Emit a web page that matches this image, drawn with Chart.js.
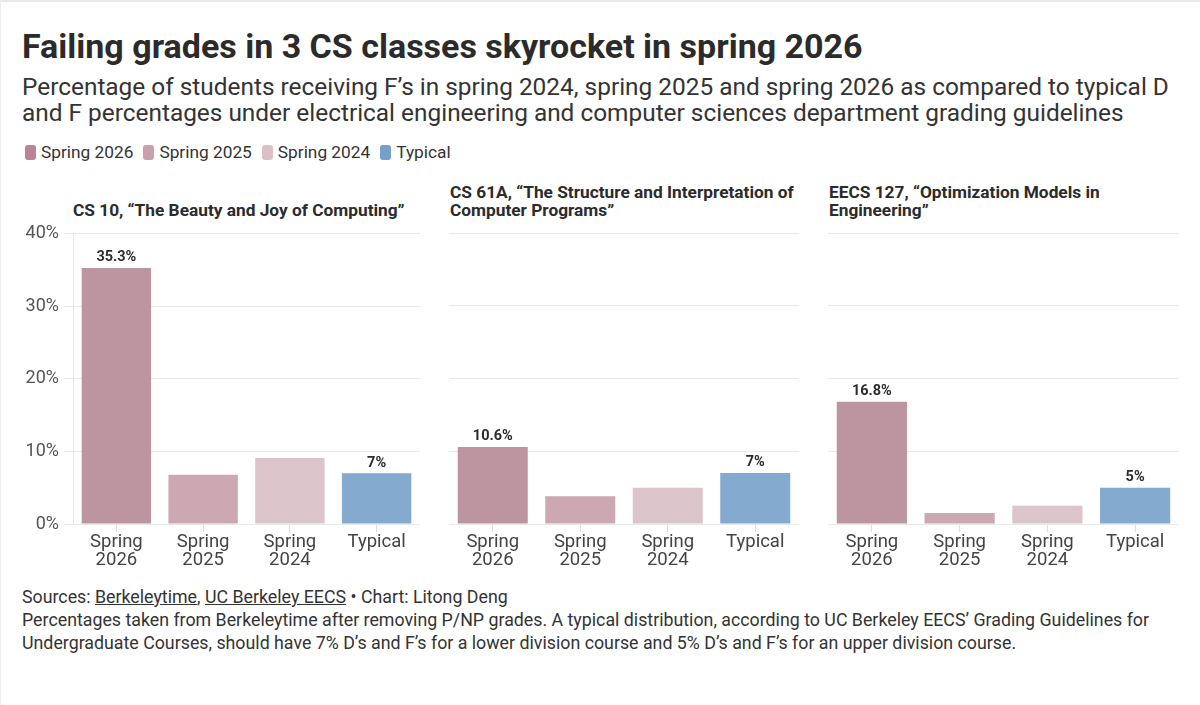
<!DOCTYPE html>
<html>
<head>
<meta charset="utf-8">
<script src="https://cdn.jsdelivr.net/npm/chart.js@4"></script>
<style>
  html, body { margin: 0; padding: 0; background: #fff; }
  #wrap { position: relative; width: 1200px; height: 705px; overflow: hidden;
    font-family: Roboto, "Noto Sans", sans-serif; color: #333;
    box-sizing: border-box; border-top: 2px solid #e8e8e8; border-left: 1px solid #eee; }
  .abs { position: absolute; }
  #title { left: 21px; top: 25px; font-size: 34px; line-height: 38px; font-weight: 700; color: #2b2b2b; white-space: nowrap; }
  #subtitle { left: 21px; top: 72px; font-size: 24.4px; line-height: 26px; color: #333; white-space: nowrap; }
  #legend { left: 24px; top: 140px; font-size: 17.3px; line-height: 20px; color: #333; display: flex; white-space: nowrap; }
  #legend .item { display: flex; align-items: center; margin-right: 10px; }
  #legend .sw { width: 11px; height: 15px; border-radius: 3px; margin-right: 5px; }
  .ptitle { font-size: 17.3px; line-height: 18px; font-weight: 700; color: #2b2b2b; white-space: nowrap; }
  canvas.panel { position: absolute; top: 216px; }
  #footer { left: 21px; top: 583px; font-size: 17.8px; line-height: 23px; color: #333; white-space: nowrap; }
  #footer u { text-decoration: underline; }
</style>
</head>
<body>
<div id="wrap">
  <div id="title" class="abs">Failing grades in 3 CS classes skyrocket in spring 2026</div>
  <div id="subtitle" class="abs">Percentage of students receiving F’s in spring 2024, spring 2025 and spring 2026 as compared to typical D<br>and F percentages under electrical engineering and computer sciences department grading guidelines</div>
  <div id="legend" class="abs"></div>

  <div class="abs ptitle" style="left:72px; top:199px;">CS 10, “The Beauty and Joy of Computing”</div>
  <div class="abs ptitle" style="left:449px; top:181px;">CS 61A, “The Structure and Interpretation of<br>Computer Programs”</div>
  <div class="abs ptitle" style="left:828px; top:181px;">EECS 127, “Optimization Models in<br>Engineering”</div>

  <canvas id="c1" class="panel" width="400" height="354" style="left:19px;"></canvas>
  <canvas id="c2" class="panel" width="350" height="354" style="left:448px;"></canvas>
  <canvas id="c3" class="panel" width="351" height="354" style="left:827px;"></canvas>

  <div id="footer" class="abs">Sources: <u>Berkeleytime</u>, <u>UC Berkeley EECS</u> • Chart: Litong Deng<br>Percentages taken from Berkeleytime after removing P/NP grades. A typical distribution, according to UC Berkeley EECS’ Grading Guidelines for<br>Undergraduate Courses, should have 7% D’s and F’s for a lower division course and 5% D’s and F’s for an upper division course.</div>
</div>

<script>
// categories / series
const categories = [['Spring', '2026'], ['Spring', '2025'], ['Spring', '2024'], 'Typical'];
const legendNames = ['Spring 2026', 'Spring 2025', 'Spring 2024', 'Typical'];
const cs10 = [35.3, 6.8, 9.1, 7];
const cs61a = [10.6, 3.8, 5.0, 7];
const eecs127 = [16.8, 1.5, 2.5, 5];
const yTicks = [0, 10, 20, 30, 40];
// which bars carry a value label
const labelled = [true, false, false, true];

const barColors = ['#bd95a1', '#cba8b2', '#dbc4ca', '#84aad0'];
const legendColors = ['#b98596', '#c9a0ad', '#dcc0c8', '#76a0cc'];

const FONT = 'Roboto, "Noto Sans", sans-serif';

// legend
const legendEl = document.getElementById('legend');
legendNames.forEach((name, i) => {
  const item = document.createElement('div');
  item.className = 'item';
  item.innerHTML = `<span class="sw" style="background:${legendColors[i]}"></span>${name}`;
  legendEl.appendChild(item);
});

// value labels above bars
const valueLabels = {
  id: 'valueLabels',
  afterDatasetsDraw(chart) {
    const ctx = chart.ctx;
    const values = chart.data.datasets[0].data;
    const meta = chart.getDatasetMeta(0);
    ctx.save();
    ctx.font = `700 14.5px ${FONT}`;
    ctx.fillStyle = '#2b2b2b';
    ctx.textAlign = 'center';
    ctx.textBaseline = 'bottom';
    meta.data.forEach((bar, i) => {
      if (!labelled[i]) return;
      ctx.fillText(values[i] + '%', bar.x, bar.y - 3);
    });
    ctx.restore();
  },
};

function makePanel(id, values, showAxis) {
  new Chart(document.getElementById(id), {
    type: 'bar',
    data: {
      labels: categories,
      datasets: [{
        data: values,
        backgroundColor: barColors,
        borderWidth: 0,
        barPercentage: 0.8,
        categoryPercentage: 1,
      }],
    },
    options: {
      responsive: false,
      animation: false,
      // panels without tick labels get the same top inset the first one gets from its labels
      layout: { padding: { top: showAxis ? 0 : 15, left: 0, right: 0, bottom: 0 } },
      plugins: { legend: { display: false }, tooltip: { enabled: false } },
      scales: {
        x: {
          grid: { display: true, drawOnChartArea: false, offset: false, tickLength: 8, color: '#dddddd' },
          border: { display: false },
          ticks: { color: '#444', font: { family: FONT, size: 18.5, lineHeight: 1.0 }, padding: 1, maxRotation: 0 },
          afterFit: s => { s.height = 48; },
        },
        y: {
          min: 0,
          max: 40,
          afterBuildTicks: s => { s.ticks = yTicks.map(v => ({ value: v })); },
          grid: { color: '#e9e9e9', lineWidth: 1, drawTicks: showAxis, tickLength: 9 },
          border: { display: showAxis, color: '#e6e6e6' },
          ticks: {
            display: showAxis,
            color: '#555',
            padding: 5,
            font: { family: FONT, size: 18 },
            callback: v => v + '%',
          },
          afterFit: s => { s.width = showAxis ? 53 : 0; },
        },
      },
    },
    plugins: [valueLabels],
  });
}

makePanel('c1', cs10, true);
makePanel('c2', cs61a, false);
makePanel('c3', eecs127, false);
</script>
</body>
</html>
